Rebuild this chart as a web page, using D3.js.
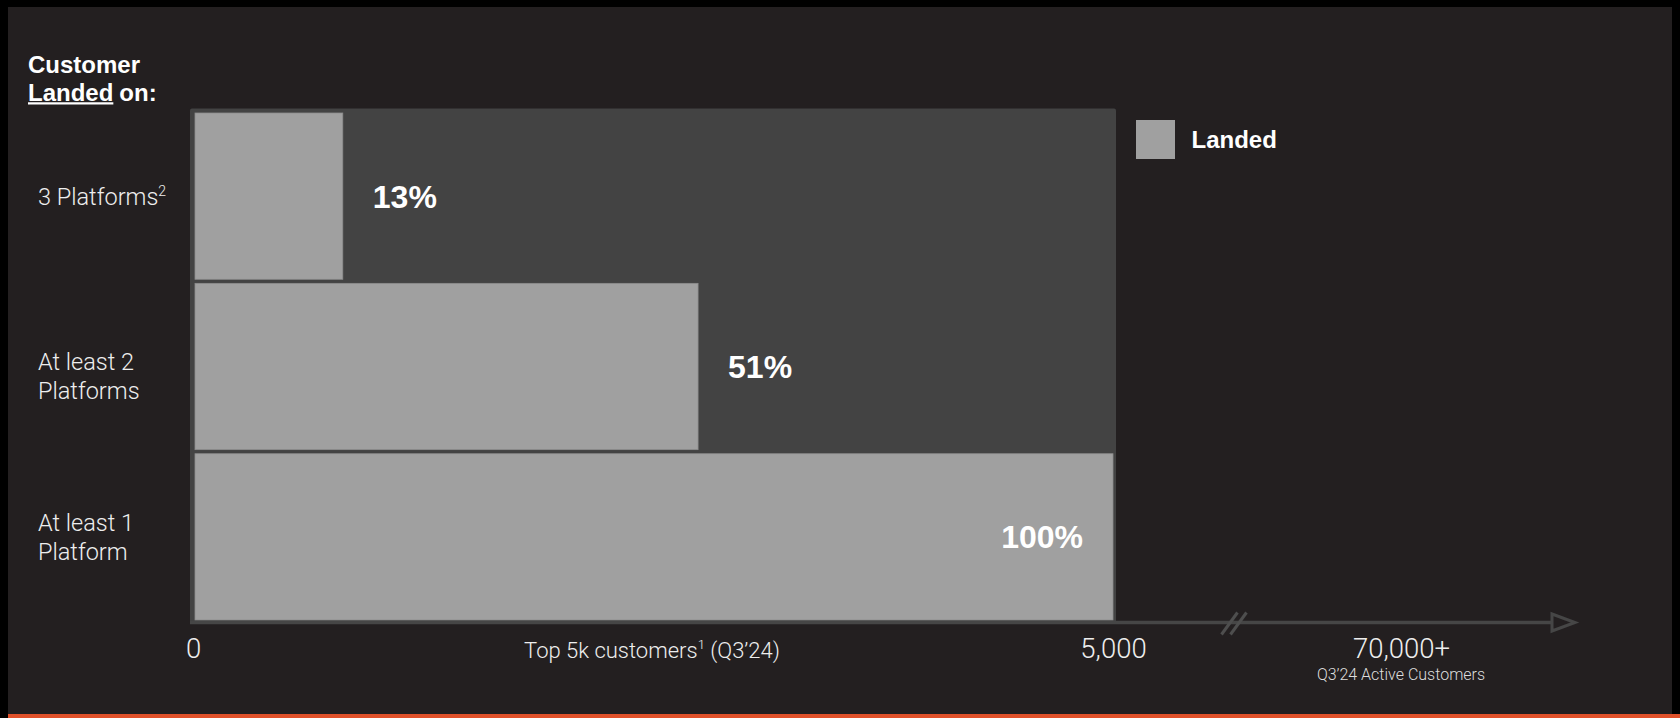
<!DOCTYPE html>
<html lang="en">
<head>
  <meta charset="utf-8" />
  <title>Customer landed on platforms</title>
  <style>
    html, body { margin: 0; padding: 0; background: #000; }
    svg { display: block; }
  </style>
  <script src="https://d3js.org/d3.v7.min.js"></script>
</head>
<body>
<script>

// ---- data ----
const categories  = ["3 Platforms", "At least 2 Platforms", "At least 1 Platform"];
const labelLines  = [["3 Platforms"], ["At least 2", "Platforms"], ["At least 1", "Platform"]];
const labelSups   = ["2", "", ""];
const landedPct   = ["13%", "51%", "100%"];
// bar lengths as drawn on the slide, in customers (slide isn't exactly to scale)
const landedDrawn = [805, 2740, 5000];
const axisTicks      = [0, 5000, 70000];
const axisTickLabels = ["0", "5,000", "70,000+"];

const W = 1680, H = 718;
const bg = "#231f20", panelCol = "#434343", barCol = "#a0a0a0", lineCol = "#464646";
const light = "Roboto, 'Helvetica Neue', 'Liberation Sans', sans-serif";
const bold  = "'Liberation Sans', Arial, Helvetica, sans-serif";

const svg = d3.select("body").append("svg")
  .attr("width", W)
  .attr("height", H);

// frame + background + orange strip at the bottom
svg.append("rect").attr("width", W).attr("height", H).attr("fill", "#000");
svg.append("rect").attr("x", 8).attr("y", 7).attr("width", 1664).attr("height", 707).attr("fill", bg);
svg.append("rect").attr("x", 8).attr("y", 714).attr("width", W - 8).attr("height", 4).attr("fill", "#e0512a");

// broken x axis: 0..5000 is the real scale, 70,000+ sits past the break
const x = d3.scaleLinear()
  .domain([0, 5000, 70000])
  .range([195, 1113, 1401]);

const y = d3.scaleBand()
  .domain(categories)
  .range([113, 620])
  .paddingInner(0.024)
  .paddingOuter(0);

const axisY = 622.5;

// dark panel behind the bars (the full 5k)
svg.append("rect")
  .attr("x", x(0) - 5)
  .attr("y", y(categories[0]) - 4.5)
  .attr("width", x(5000) - x(0) + 8)
  .attr("height", axisY - y(categories[0]) + 4.5)
  .attr("rx", 2)
  .attr("fill", panelCol);

// bars
svg.selectAll("rect.bar")
  .data(categories)
  .join("rect")
    .attr("class", "bar")
    .attr("x", x(0))
    .attr("y", d => y(d))
    .attr("width", (d, i) => x(landedDrawn[i]) - x(0))
    .attr("height", y.bandwidth())
    .attr("fill", barCol)
    .attr("stroke", "#8c8c8c")
    .attr("stroke-width", 0.8);

// percentage labels (outside the bar unless it's the full one)
svg.selectAll("text.pct")
  .data(categories)
  .join("text")
    .attr("class", "pct")
    .attr("x", (d, i) => landedDrawn[i] >= 5000 ? x(landedDrawn[i]) - 30 : x(landedDrawn[i]) + 30)
    .attr("y", d => y(d) + y.bandwidth() / 2)
    .attr("dy", "0.36em")
    .attr("text-anchor", (d, i) => landedDrawn[i] >= 5000 ? "end" : "start")
    .style("font-family", bold)
    .style("font-weight", "bold")
    .style("font-size", "32px")
    .attr("fill", "#fff")
    .text((d, i) => landedPct[i]);

// category labels on the left
categories.forEach(function(c, i) {
  const lines = labelLines[i];
  // the middle label sits a little low on the slide
  const cy = y(c) + y.bandwidth() / 2 + (i === 1 ? 9 : 0);
  const t = svg.append("text")
    .attr("x", 38)
    .style("font-family", light)
    .style("font-weight", 300)
    .style("font-size", "23.5px")
    .attr("fill", "#eeeeee");
  lines.forEach(function(line, j) {
    t.append("tspan")
      .attr("x", 38)
      .attr("y", cy + (j - (lines.length - 1) / 2) * 29 + 8.5)
      .text(line);
  });
  if (labelSups[i]) {
    t.append("tspan")
      .attr("dy", -9)
      .style("font-size", "14px")
      .text(labelSups[i]);
  }
});

// axis line, break marks and arrow head
const arrowX = 1552;
svg.append("line")
  .attr("x1", x(0) - 5).attr("x2", arrowX)
  .attr("y1", axisY).attr("y2", axisY)
  .attr("stroke", lineCol)
  .attr("stroke-width", 3.5);

const breakX = x(5000) + 121;
[-4.5, 4.5].forEach(function(off) {
  svg.append("line")
    .attr("x1", breakX + off - 8).attr("y1", axisY + 12)
    .attr("x2", breakX + off + 8).attr("y2", axisY - 10)
    .attr("stroke", "#4e4e4e")
    .attr("stroke-width", 3);
});

svg.append("path")
  .attr("d", `M${arrowX},${axisY - 8.5} L${arrowX + 23},${axisY} L${arrowX},${axisY + 8.5} Z`)
  .attr("fill", bg)
  .attr("stroke", lineCol)
  .attr("stroke-width", 3)
  .attr("stroke-linejoin", "miter");

const xAxis = svg.append("g")
  .attr("transform", `translate(0, ${axisY})`)
  .call(d3.axisBottom(x)
    .tickValues(axisTicks)
    .tickFormat((d, i) => axisTickLabels[i])
    .tickSize(0)
    .tickPadding(16));
xAxis.select(".domain").remove();
xAxis.selectAll("text")
  .style("font-family", light)
  .style("font-weight", 300)
  .style("font-size", "27.5px")
  .attr("fill", "#eeeeee");
xAxis.selectAll(".tick text").filter((d) => d === 0).attr("x", -2);

svg.append("text")
  .attr("x", x(70000))
  .attr("y", 680)
  .attr("text-anchor", "middle")
  .style("font-family", light)
  .style("font-weight", 300)
  .style("font-size", "16px")
  .attr("fill", "#dddddd")
  .text("Q3\u201924 Active Customers");

// axis title under the panel
const axTitle = svg.append("text")
  .attr("x", (x(0) + x(5000)) / 2 - 2)
  .attr("y", 658)
  .attr("text-anchor", "middle")
  .style("font-family", light)
  .style("font-weight", 300)
  .style("font-size", "22px")
  .attr("fill", "#eeeeee");
axTitle.append("tspan").text("Top 5k customers");
axTitle.append("tspan").attr("dy", -9).style("font-size", "13px").text("1");
axTitle.append("tspan").attr("dy", 9).text(" (Q3\u201924)");

// header top left
svg.append("text")
  .attr("x", 28).attr("y", 72.7)
  .style("font-family", bold).style("font-weight", "bold").style("font-size", "24px")
  .attr("fill", "#fff")
  .text("Customer");

const landedWord = svg.append("text")
  .attr("x", 28).attr("y", 100.7)
  .style("font-family", bold).style("font-weight", "bold").style("font-size", "24px")
  .attr("fill", "#fff")
  .text("Landed");
const lw = landedWord.node().getComputedTextLength();
svg.append("line")
  .attr("x1", 28).attr("x2", 28 + lw)
  .attr("y1", 103.4).attr("y2", 103.4)
  .attr("stroke", "#fff").attr("stroke-width", 2.4);
svg.append("text")
  .attr("x", 28 + lw + 6).attr("y", 100.7)
  .style("font-family", bold).style("font-weight", "bold").style("font-size", "24px")
  .attr("fill", "#fff")
  .text("on:");

// legend
svg.append("rect")
  .attr("x", 1136).attr("y", 120)
  .attr("width", 39).attr("height", 39)
  .attr("fill", barCol);
svg.append("text")
  .attr("x", 1191.5).attr("y", 148.3)
  .style("font-family", bold).style("font-weight", "bold").style("font-size", "24px")
  .attr("fill", "#fff")
  .text("Landed");

</script>
</body>
</html>
